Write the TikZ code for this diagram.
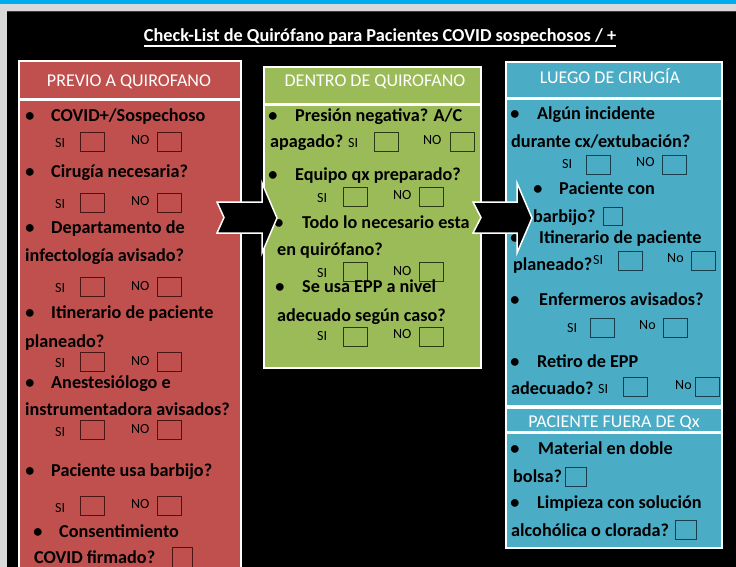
\documentclass[tikz,border=0pt]{standalone}
\usepackage{fontspec}
\setmainfont{Carlito}
\usetikzlibrary{calc}
\definecolor{topblue}{HTML}{00AEEF}
\definecolor{lgray}{HTML}{D9D9D9}
\definecolor{redfill}{HTML}{C0504D}
\definecolor{greenfill}{HTML}{9BBB59}
\definecolor{bluefill}{HTML}{4BACC6}
\definecolor{rcb}{HTML}{4A1515}
\definecolor{gcb}{HTML}{2B3A12}
\definecolor{bcb}{HTML}{173E4A}
\newcommand\snrow[9]{%
 \node[sino] (#1si) at (#3,#4) {SI};
 \node[chk=#2] (#1sb) at (#5,#6) {};
 \node[sino] (#1no) at (#7,#8) {NO};
 \node[chk=#2] (#1nb) at (#9,#6) {};}
\newcommand\snrowx[9]{%
 \node[sino] (#1si) at (#3,#4) {SI};
 \node[chk=#2] (#1sb) at (#5,#6) {};
 \node[sino] (#1no) at (#7,#8) {No};
 \node[chk=#2] (#1nb) at (#9,#6) {};}
\begin{document}
\begin{tikzpicture}[x=1pt,y=-1pt,
  item/.style={font=\fontsize{18.2}{20}\selectfont\bfseries, anchor=base west, inner sep=0pt, text=black},
  bul/.style={font=\fontsize{18.2}{20}\selectfont\bfseries, anchor=base, inner sep=0pt, text=black},
  sino/.style={font=\fontsize{14}{16}\selectfont, anchor=base west, inner sep=0pt, text=black},
  hdr/.style={font=\fontsize{18}{20}\selectfont, text=white, anchor=base, inner sep=0pt},
  ttl/.style={font=\fontsize{18.3}{20}\selectfont\bfseries, text=white, anchor=base, inner sep=0pt},
  chk/.style={draw=#1, line width=1pt, rectangle, inner sep=0pt, anchor=north west, minimum width=24pt, minimum height=19pt},
  panel/.style={draw=white, line width=2pt},
  barrow/.style={fill=black, draw=white, line width=1.5pt, line join=miter}]
\useasboundingbox (0,0) rectangle (736,567);
\clip (0,0) rectangle (736,567);
% background
\fill[lgray] (0,0) rectangle (736,567);
\fill[topblue] (0,0) rectangle (736,4.5);
\fill[black] (7,11) rectangle (740,570);
\draw[black!70!olive, line width=0.8pt] (7,11) -- (740,11);
% title
\node[ttl] (title) at (380,42) {Check-List de Quirófano para Pacientes COVID sospechosos / +};
\draw[white, line width=1.2pt] ($(title.base west)+(0,4)$) -- ($(title.base east)+(0,4)$);
% panels
\draw[panel, fill=redfill] (19,61) rectangle (241,99);
\draw[panel, fill=redfill] (19,100) rectangle (241,590);
\draw[panel, fill=greenfill] (264,67) rectangle (481,104);
\draw[panel, fill=greenfill] (264,105) rectangle (481,368);
\draw[panel, fill=bluefill] (506,62) rectangle (722,98);
\draw[panel, fill=bluefill] (506,99) rectangle (722,406);
\draw[panel, fill=bluefill] (506,408) rectangle (722,432);
\draw[panel, fill=bluefill] (506,433) rectangle (722,548);
% headers
\node[hdr] (rh) at (129,87) {PREVIO A QUIROFANO};
\node[hdr] (gh) at (375,87) {DENTRO DE QUIROFANO};
\node[hdr] (bh) at (610,84) {LUEGO DE CIRUGÍA};
\node[hdr] (bh2) at (614,427) {PACIENTE FUERA DE Qx};
% red items
\node[bul] (r1b) at (30,122) {•}; \node[item] (r1) at (51,122) {COVID+/Sospechoso};
\snrow{r1}{rcb}{55}{148}{80}{132}{131}{145}{157}
\node[bul] (r2b) at (30,177) {•}; \node[item] (r2) at (51,177) {Cirugía necesaria?};
\snrow{r2}{rcb}{55}{208}{80}{193}{131}{205}{157}
\node[bul] (r3b) at (30,233) {•}; \node[item] (r3) at (51,233) {Departamento de};
\node[item] (r3c) at (25,261) {infectología avisado?};
\snrow{r3}{rcb}{55}{292}{80}{277}{131}{290}{157}
\node[bul] (r4b) at (30,318) {•}; \node[item] (r4) at (51,318) {Itinerario de paciente};
\node[item] (r4c) at (25,347) {planeado?};
\snrow{r4}{rcb}{55}{367}{80}{352}{131}{365}{157}
\node[bul] (r5b) at (30,388) {•}; \node[item] (r5) at (51,388) {Anestesiólogo e};
\node[item] (r5c) at (25,415) {instrumentadora avisados?};
\snrow{r5}{rcb}{55}{436}{80}{420}{131}{433}{157}
\node[bul] (r6b) at (30,476) {•}; \node[item] (r6) at (51,476) {Paciente usa barbijo?};
\snrow{r6}{rcb}{55}{512}{80}{496}{131}{508}{157}
\node[bul] (r7b) at (38,537) {•}; \node[item] (r7) at (59,537) {Consentimiento};
\node[item] (r7c) at (34,563) {COVID firmado?};
\node[chk=rcb, minimum width=20pt, minimum height=20pt] (r7box) at (172,547) {};
% green items
\node[bul] (g1b) at (273,122) {•}; \node[item] (g1) at (295,122) {Presión negativa? A/C};
\node[item] (g1c) at (270,148) {apagado?};
\snrow{g1}{gcb}{348}{148}{374}{132}{423}{145}{450}
\node[bul] (g2b) at (273,180) {•}; \node[item] (g2) at (295,180) {Equipo qx preparado?};
\snrow{g2}{gcb}{317}{202}{343}{187}{393}{199}{419}
\node[bul] (g3b) at (279,228) {•}; \node[item] (g3) at (302,228) {Todo lo necesario esta};
\node[item] (g3c) at (277,255) {en quirófano?};
\snrow{g3}{gcb}{317}{277}{343}{262}{393}{275}{419}
\node[bul] (g4b) at (280,292) {•}; \node[item] (g4) at (302,292) {Se usa EPP a nivel};
\node[item] (g4c) at (277,321) {adecuado según caso?};
\snrow{g4}{gcb}{317}{340}{343}{327}{393}{338}{419}
% blue items
\node[bul] (b1b) at (515,120) {•}; \node[item] (b1) at (537,120) {Algún incidente};
\node[item] (b1c) at (511,148) {durante cx/extubación?};
\snrow{b1}{bcb}{562}{168}{586}{155}{636}{166}{662}
\node[bul] (b2b) at (538,194) {•}; \node[item] (b2) at (559,194) {Paciente con};
\node[item] (b2c) at (533,222) {barbijo?};
\node[chk=bcb, minimum width=19pt, minimum height=18pt] (b2box) at (603,207) {};
\node[bul] (b3b) at (515,243) {•}; \node[item] (b3) at (539,243) {Itinerario de paciente};
\node[item] (b3c) at (513,270) {planeado?};
\snrowx{b3}{bcb}{593}{264}{618}{251}{667}{262}{691}
\node[bul] (b4b) at (515,305) {•}; \node[item] (b4) at (539,305) {Enfermeros avisados?};
\snrowx{b4}{bcb}{567}{332}{590}{318}{639}{329}{663}
\node[bul] (b5b) at (515,367) {•}; \node[item] (b5) at (537,367) {Retiro de EPP};
\node[item] (b5c) at (511,394) {adecuado?};
\snrowx{b5}{bcb}{598}{393}{623}{377}{675}{389}{695}
\node[bul] (b6b) at (515,454) {•}; \node[item] (b6) at (538,454) {Material en doble};
\node[item] (b6c) at (513,482) {bolsa?};
\node[chk=bcb, minimum width=21pt, minimum height=19pt] (b6box) at (565,467) {};
\node[bul] (b7b) at (515,508) {•}; \node[item] (b7) at (537,508) {Limpieza con solución};
\node[item] (b7c) at (511,536) {alcohólica o clorada?};
\node[chk=bcb, minimum width=21pt, minimum height=19pt] (b7box) at (675,520) {};
% block arrows
\draw[barrow] (217,202) -- (262,202) -- (262,183) -- (277,218) -- (262,253) -- (262,233) -- (217,233) -- (224,217.5) -- cycle;
\draw[barrow] (473,202) -- (517,202) -- (517,183) -- (532,218) -- (517,253) -- (517,233) -- (473,233) -- (481,217.5) -- cycle;
\end{tikzpicture}
\end{document}
